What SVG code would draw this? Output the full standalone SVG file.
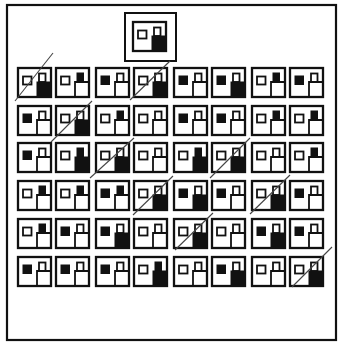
<svg xmlns="http://www.w3.org/2000/svg" xmlns:xlink="http://www.w3.org/1999/xlink" width="338" height="343" viewBox="0 0 338 343">
<style>
.o{fill:none;stroke:#111;stroke-width:1.8}
.f{fill:#111;stroke:none}
.fr{fill:#fff;stroke:#111;stroke-width:2.3}
.mk{stroke:#444;stroke-width:1.1;fill:none}
</style>
<defs>
<rect id="frame" class="fr" x="0" y="0" width="33" height="29"/>
<rect id="Lo" class="o" x="5" y="8.5" width="8.5" height="8"/>
<rect id="Lf" class="f" x="4.5" y="7.5" width="9.5" height="9.5"/>
<rect id="Uo" class="o" x="21" y="5.5" width="6.5" height="8.5"/>
<rect id="Uf" class="f" x="20.5" y="4.5" width="7.5" height="10"/>
<path id="Qo" class="o" d="M19 29V14H33"/>
<rect id="Qf" class="f" x="18.5" y="13.5" width="14.5" height="15.5"/>
</defs>
<rect width="338" height="343" fill="#fff"/>
<rect x="7" y="5" width="329" height="335" fill="none" stroke="#111" stroke-width="2.2"/>
<g id="target">
<rect x="125" y="13" width="51" height="48" fill="#fff" stroke="#111" stroke-width="2"/>
<g transform="translate(133,22)"><use xlink:href="#frame"/><use xlink:href="#Lo"/><use xlink:href="#Uo"/><use xlink:href="#Qf"/></g>
</g>
<g id="r1c1" transform="translate(18,68)"><use xlink:href="#frame"/><use xlink:href="#Lo"/><use xlink:href="#Uo"/><use xlink:href="#Qf"/></g>
<g id="r1c2" transform="translate(56,68)"><use xlink:href="#frame"/><use xlink:href="#Lo"/><use xlink:href="#Uf"/><use xlink:href="#Qo"/></g>
<g id="r1c3" transform="translate(96,68)"><use xlink:href="#frame"/><use xlink:href="#Lf"/><use xlink:href="#Uo"/><use xlink:href="#Qo"/></g>
<g id="r1c4" transform="translate(134,68)"><use xlink:href="#frame"/><use xlink:href="#Lo"/><use xlink:href="#Uo"/><use xlink:href="#Qf"/></g>
<g id="r1c5" transform="translate(174,68)"><use xlink:href="#frame"/><use xlink:href="#Lf"/><use xlink:href="#Uo"/><use xlink:href="#Qo"/></g>
<g id="r1c6" transform="translate(212,68)"><use xlink:href="#frame"/><use xlink:href="#Lf"/><use xlink:href="#Uo"/><use xlink:href="#Qf"/></g>
<g id="r1c7" transform="translate(252,68)"><use xlink:href="#frame"/><use xlink:href="#Lo"/><use xlink:href="#Uf"/><use xlink:href="#Qo"/></g>
<g id="r1c8" transform="translate(290,68)"><use xlink:href="#frame"/><use xlink:href="#Lf"/><use xlink:href="#Uo"/><use xlink:href="#Qo"/></g>

<g id="r2c1" transform="translate(18,106)"><use xlink:href="#frame"/><use xlink:href="#Lf"/><use xlink:href="#Uo"/><use xlink:href="#Qo"/></g>
<g id="r2c2" transform="translate(56,106)"><use xlink:href="#frame"/><use xlink:href="#Lo"/><use xlink:href="#Uo"/><use xlink:href="#Qf"/></g>
<g id="r2c3" transform="translate(96,106)"><use xlink:href="#frame"/><use xlink:href="#Lo"/><use xlink:href="#Uf"/><use xlink:href="#Qo"/></g>
<g id="r2c4" transform="translate(134,106)"><use xlink:href="#frame"/><use xlink:href="#Lo"/><use xlink:href="#Uo"/><use xlink:href="#Qo"/></g>
<g id="r2c5" transform="translate(174,106)"><use xlink:href="#frame"/><use xlink:href="#Lf"/><use xlink:href="#Uo"/><use xlink:href="#Qo"/></g>
<g id="r2c6" transform="translate(212,106)"><use xlink:href="#frame"/><use xlink:href="#Lf"/><use xlink:href="#Uo"/><use xlink:href="#Qo"/></g>
<g id="r2c7" transform="translate(252,106)"><use xlink:href="#frame"/><use xlink:href="#Lo"/><use xlink:href="#Uf"/><use xlink:href="#Qo"/></g>
<g id="r2c8" transform="translate(290,106)"><use xlink:href="#frame"/><use xlink:href="#Lo"/><use xlink:href="#Uf"/><use xlink:href="#Qo"/></g>

<g id="r3c1" transform="translate(18,143)"><use xlink:href="#frame"/><use xlink:href="#Lf"/><use xlink:href="#Uo"/><use xlink:href="#Qo"/></g>
<g id="r3c2" transform="translate(56,143)"><use xlink:href="#frame"/><use xlink:href="#Lo"/><use xlink:href="#Uf"/><use xlink:href="#Qf"/></g>
<g id="r3c3" transform="translate(96,143)"><use xlink:href="#frame"/><use xlink:href="#Lo"/><use xlink:href="#Uo"/><use xlink:href="#Qf"/></g>
<g id="r3c4" transform="translate(134,143)"><use xlink:href="#frame"/><use xlink:href="#Lo"/><use xlink:href="#Uo"/><use xlink:href="#Qo"/></g>
<g id="r3c5" transform="translate(174,143)"><use xlink:href="#frame"/><use xlink:href="#Lo"/><use xlink:href="#Uf"/><use xlink:href="#Qf"/></g>
<g id="r3c6" transform="translate(212,143)"><use xlink:href="#frame"/><use xlink:href="#Lo"/><use xlink:href="#Uo"/><use xlink:href="#Qf"/></g>
<g id="r3c7" transform="translate(252,143)"><use xlink:href="#frame"/><use xlink:href="#Lo"/><use xlink:href="#Uo"/><use xlink:href="#Qo"/></g>
<g id="r3c8" transform="translate(290,143)"><use xlink:href="#frame"/><use xlink:href="#Lo"/><use xlink:href="#Uf"/><use xlink:href="#Qo"/></g>

<g id="r4c1" transform="translate(18,181)"><use xlink:href="#frame"/><use xlink:href="#Lo"/><use xlink:href="#Uf"/><use xlink:href="#Qo"/></g>
<g id="r4c2" transform="translate(56,181)"><use xlink:href="#frame"/><use xlink:href="#Lo"/><use xlink:href="#Uf"/><use xlink:href="#Qo"/></g>
<g id="r4c3" transform="translate(96,181)"><use xlink:href="#frame"/><use xlink:href="#Lf"/><use xlink:href="#Uf"/><use xlink:href="#Qo"/></g>
<g id="r4c4" transform="translate(134,181)"><use xlink:href="#frame"/><use xlink:href="#Lo"/><use xlink:href="#Uo"/><use xlink:href="#Qf"/></g>
<g id="r4c5" transform="translate(174,181)"><use xlink:href="#frame"/><use xlink:href="#Lf"/><use xlink:href="#Uo"/><use xlink:href="#Qf"/></g>
<g id="r4c6" transform="translate(212,181)"><use xlink:href="#frame"/><use xlink:href="#Lf"/><use xlink:href="#Uo"/><use xlink:href="#Qo"/></g>
<g id="r4c7" transform="translate(252,181)"><use xlink:href="#frame"/><use xlink:href="#Lo"/><use xlink:href="#Uo"/><use xlink:href="#Qf"/></g>
<g id="r4c8" transform="translate(290,181)"><use xlink:href="#frame"/><use xlink:href="#Lf"/><use xlink:href="#Uo"/><use xlink:href="#Qo"/></g>

<g id="r5c1" transform="translate(18,219)"><use xlink:href="#frame"/><use xlink:href="#Lo"/><use xlink:href="#Uf"/><use xlink:href="#Qo"/></g>
<g id="r5c2" transform="translate(56,219)"><use xlink:href="#frame"/><use xlink:href="#Lf"/><use xlink:href="#Uo"/><use xlink:href="#Qo"/></g>
<g id="r5c3" transform="translate(96,219)"><use xlink:href="#frame"/><use xlink:href="#Lf"/><use xlink:href="#Uo"/><use xlink:href="#Qf"/></g>
<g id="r5c4" transform="translate(134,219)"><use xlink:href="#frame"/><use xlink:href="#Lo"/><use xlink:href="#Uo"/><use xlink:href="#Qo"/></g>
<g id="r5c5" transform="translate(174,219)"><use xlink:href="#frame"/><use xlink:href="#Lo"/><use xlink:href="#Uo"/><use xlink:href="#Qf"/></g>
<g id="r5c6" transform="translate(212,219)"><use xlink:href="#frame"/><use xlink:href="#Lo"/><use xlink:href="#Uo"/><use xlink:href="#Qo"/></g>
<g id="r5c7" transform="translate(252,219)"><use xlink:href="#frame"/><use xlink:href="#Lf"/><use xlink:href="#Uo"/><use xlink:href="#Qf"/></g>
<g id="r5c8" transform="translate(290,219)"><use xlink:href="#frame"/><use xlink:href="#Lf"/><use xlink:href="#Uo"/><use xlink:href="#Qo"/></g>

<g id="r6c1" transform="translate(18,257)"><use xlink:href="#frame"/><use xlink:href="#Lf"/><use xlink:href="#Uo"/><use xlink:href="#Qo"/></g>
<g id="r6c2" transform="translate(56,257)"><use xlink:href="#frame"/><use xlink:href="#Lf"/><use xlink:href="#Uo"/><use xlink:href="#Qo"/></g>
<g id="r6c3" transform="translate(96,257)"><use xlink:href="#frame"/><use xlink:href="#Lf"/><use xlink:href="#Uo"/><use xlink:href="#Qo"/></g>
<g id="r6c4" transform="translate(134,257)"><use xlink:href="#frame"/><use xlink:href="#Lo"/><use xlink:href="#Uf"/><use xlink:href="#Qf"/></g>
<g id="r6c5" transform="translate(174,257)"><use xlink:href="#frame"/><use xlink:href="#Lo"/><use xlink:href="#Uo"/><use xlink:href="#Qo"/></g>
<g id="r6c6" transform="translate(212,257)"><use xlink:href="#frame"/><use xlink:href="#Lf"/><use xlink:href="#Uo"/><use xlink:href="#Qf"/></g>
<g id="r6c7" transform="translate(252,257)"><use xlink:href="#frame"/><use xlink:href="#Lo"/><use xlink:href="#Uo"/><use xlink:href="#Qo"/></g>
<g id="r6c8" transform="translate(290,257)"><use xlink:href="#frame"/><use xlink:href="#Lo"/><use xlink:href="#Uo"/><use xlink:href="#Qf"/></g>

<g id="marks" class="mk">
<line x1="15" y1="101" x2="53" y2="53"/>
<line x1="130" y1="100" x2="170" y2="61"/>
<line x1="51" y1="142" x2="92" y2="101"/>
<line x1="90" y1="178" x2="134" y2="138"/>
<line x1="210" y1="178" x2="250" y2="138"/>
<line x1="133" y1="215" x2="173" y2="176"/>
<line x1="250" y1="214" x2="290" y2="175"/>
<line x1="175" y1="250" x2="213" y2="213"/>
<line x1="292" y1="287" x2="332" y2="247"/>
</g>
</svg>
